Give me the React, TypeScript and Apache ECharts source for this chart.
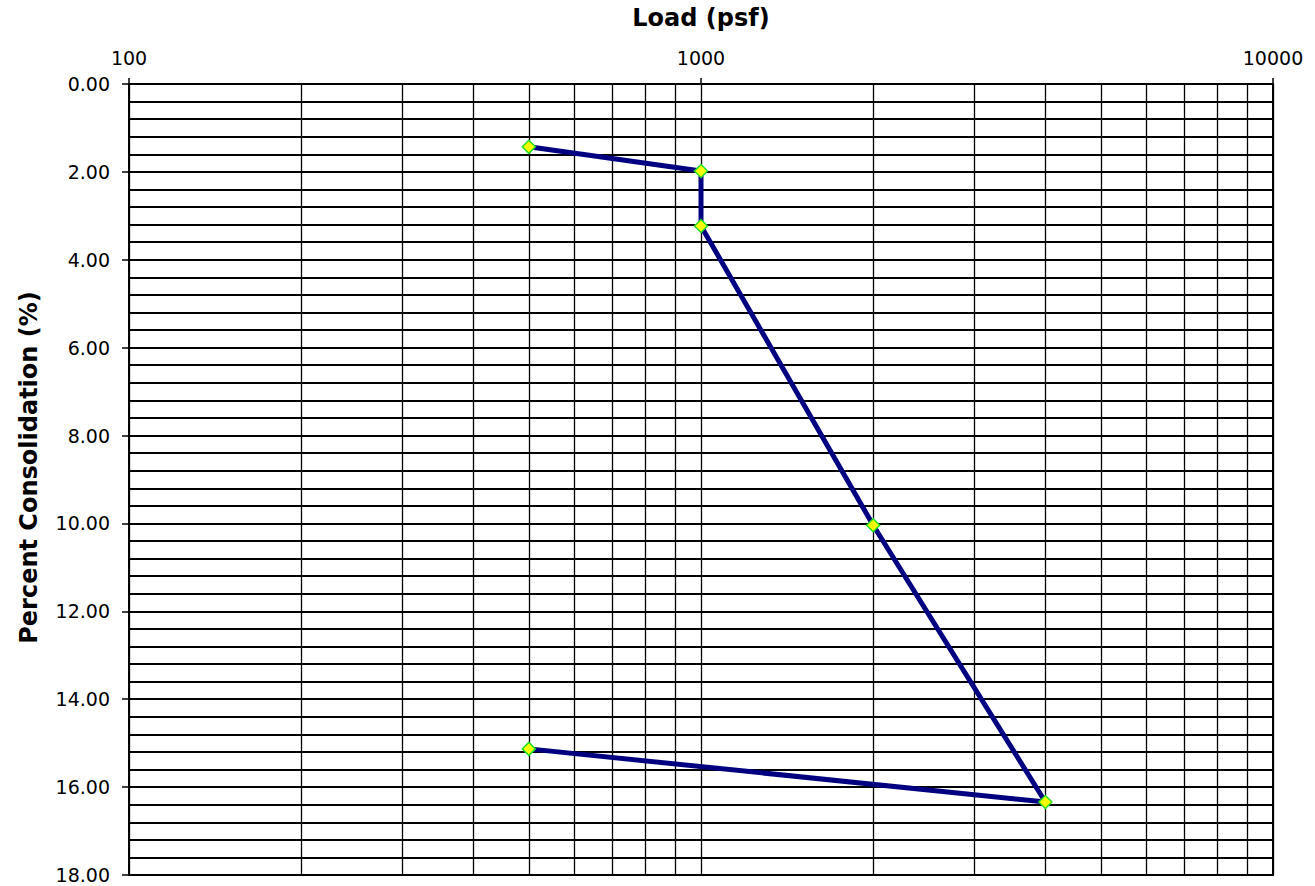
import React, { useEffect, useRef } from "react";
import * as echarts from "echarts";

const loads = [500, 1000, 1000, 2000, 4000, 500];
const consolidation = [1.43, 1.98, 3.23, 10.04, 16.34, 15.13];
const xMinorGrid = [200, 300, 400, 500, 600, 700, 800, 900, 2000, 3000, 4000, 5000, 6000, 7000, 8000, 9000];
const xAxisTitle = "Load (psf)";
const yAxisTitle = "Percent Consolidation (%)";

const FONT = "DejaVu Sans";

export default function App() {
  const ref = useRef<HTMLDivElement>(null);
  useEffect(() => {
    document.body.style.margin = "0";
    const chart = echarts.init(ref.current!, null, { renderer: "svg" });
    chart.setOption({
      animation: false,
      backgroundColor: "#fff",
      grid: {
        left: 129,
        top: 84,
        right: 42,
        bottom: 11,
        show: true,
        borderColor: "#000",
        borderWidth: 2,
        backgroundColor: "transparent",
      },
      xAxis: {
        type: "log",
        logBase: 10,
        min: 100,
        max: 10000,
        position: "top",
        name: xAxisTitle,
        nameLocation: "middle",
        nameGap: 54,
        nameTextStyle: { fontFamily: FONT, fontWeight: "bold", fontSize: 24, color: "#000" },
        axisLine: { show: true, lineStyle: { color: "#000", width: 2 } },
        axisTick: { show: true, length: 6, lineStyle: { color: "#000", width: 1.5 } },
        axisLabel: {
          fontFamily: FONT,
          fontSize: 19,
          color: "#000",
          margin: 17,
          formatter: (v: number) => String(Math.round(v)),
        },
        splitLine: { show: true, lineStyle: { color: "#000", width: 1.3 } },
        minorTick: { show: false },
        minorSplitLine: { show: false },
      },
      yAxis: {
        type: "value",
        inverse: true,
        min: 0,
        max: 18,
        interval: 2,
        name: yAxisTitle,
        nameLocation: "middle",
        nameGap: 88,
        nameRotate: 90,
        nameTextStyle: {
          fontFamily: FONT,
          fontWeight: "bold",
          fontSize: 24,
          color: "#000",
          padding: [0, 0, 0, 24],
        },
        axisLine: { show: true, lineStyle: { color: "#000", width: 2 } },
        axisTick: { show: true, length: 7, lineStyle: { color: "#000", width: 1.5 } },
        axisLabel: {
          fontFamily: FONT,
          fontSize: 19,
          color: "#000",
          margin: 19,
          formatter: (v: number) => v.toFixed(2),
        },
        splitLine: { show: true, lineStyle: { color: "#000", width: 2 } },
        minorTick: { show: false, splitNumber: 5 },
        minorSplitLine: { show: true, lineStyle: { color: "#000", width: 2 } },
      },
      series: [
        {
          type: "line",
          data: [],
          z: 1,
          silent: true,
          markLine: {
            silent: true,
            symbol: ["none", "none"],
            label: { show: false },
            lineStyle: { type: "solid", color: "#000", width: 1.3 },
            data: xMinorGrid.map((v) => ({ xAxis: v })),
          },
        },
        {
          type: "line",
          z: 5,
          data: loads.map((x, i) => [x, consolidation[i]]),
          lineStyle: { color: "#000080", width: 5 },
          symbol: "diamond",
          symbolSize: 13,
          showAllSymbol: true,
          itemStyle: { color: "#ffff00", borderColor: "#22e022", borderWidth: 1.5 },
        },
      ],
    });
    return () => chart.dispose();
  }, []);
  return <div ref={ref} style={{ width: 1315, height: 886 }} />;
}
